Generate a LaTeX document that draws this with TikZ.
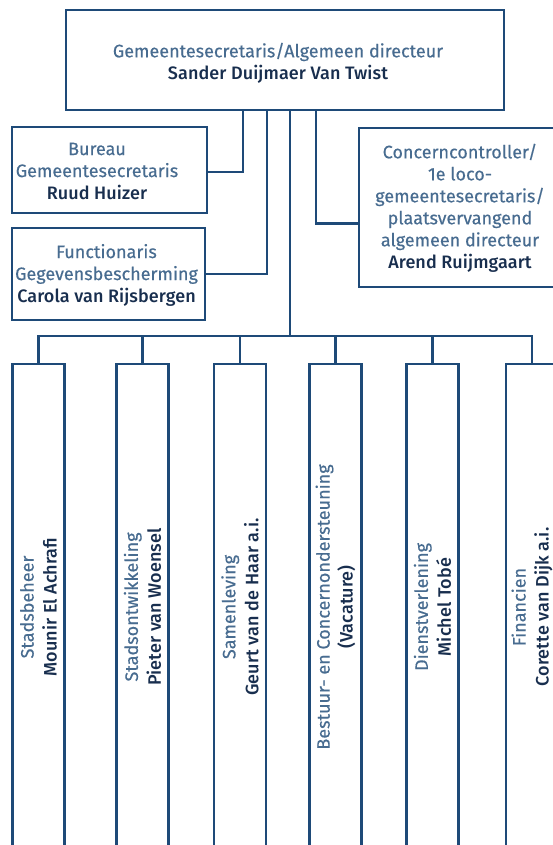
\documentclass[tikz,border=0pt]{standalone}
\usepackage{fontspec}
\setmainfont{Fira Sans}
\newfontfamily\rolefont{Fira Sans}[FakeBold=0.4]
\newfontfamily\namefont{Fira Sans Medium}[LetterSpace=0.5]
\usepackage{xcolor}
\usepackage{tikz}
\definecolor{linecol}{RGB}{30,74,120}
\definecolor{rolecol}{RGB}{72,108,144}
\definecolor{namecol}{RGB}{24,46,78}
\newcommand{\role}[1]{{\rolefont\color{rolecol}#1}}
\newcommand{\naam}[1]{{\namefont\color{namecol}#1}}

\begin{document}
\begin{tikzpicture}[x=1pt,y=-1pt]
  \tikzset{
    orgbox/.style={draw=linecol,line width=2.6pt},
    orgtxt/.style={inner sep=0pt,align=center,font=\fontsize{18}{22}\selectfont},
    colbox/.style={draw=linecol,line width=2.6pt,rotate=90,minimum width=486pt,minimum height=52pt,inner sep=0pt,align=center,font=\fontsize{18}{23}\selectfont},
    conn/.style={draw=linecol,line width=2.6pt,line cap=rect}
  }
  \useasboundingbox (0,0) rectangle (552,845);
  % top
  \node[orgbox,minimum width=438pt,minimum height=100pt] (dir) at (285,60) {};
  \node[orgtxt] (dirtxt) at (278,63) {\role{Gemeentesecretaris/Algemeen directeur}\\\naam{Sander Duijmaer Van Twist}};
  % staff
  \node[orgbox,minimum width=195pt,minimum height=86pt] (bureau) at (109.5,170) {};
  \node[orgtxt] (bureautxt) at (97,171) {\role{Bureau}\\\role{Gemeentesecretaris}\\\naam{Ruud Huizer}};
  \node[orgbox,minimum width=193pt,minimum height=92pt] (fg) at (108.5,274) {};
  \node[orgtxt] (fgtxt) at (106.5,275) {\role{Functionaris}\\\role{Gegevensbescherming}\\\naam{Carola van Rijsbergen}};
  \node[orgbox,minimum width=202pt,minimum height=159pt] (cc) at (460,207.5) {};
  \node[orgtxt] (cctxt) at (460,208) {\role{Concerncontroller/}\\\role{1e loco-}\\\role{gemeentesecretaris/}\\\role{plaatsvervangend}\\\role{algemeen directeur}\\\naam{Arend Ruijmgaart}};
  % columns
  \node[colbox] (stadsbeheer) at (38.5,607) {\role{Stadsbeheer}\\\naam{Mounir El Achrafi}};
  \node[colbox] (stadsontw) at (142.5,607) {\role{Stadsontwikkeling}\\\naam{Pieter van Woensel}};
  \node[colbox] (samenleving) at (240,607) {\role{Samenleving}\\\naam{Geurt van de Haar a.i.}};
  \node[colbox] (bestuur) at (335.5,607) {\role{Bestuur- en Concernondersteuning}\\\naam{(Vacature)}};
  \node[colbox] (dienst) at (432.5,607) {\role{Dienstverlening}\\\naam{Michel Tobé}};
  \node[colbox] (financien) at (532,607) {\role{Financien}\\\naam{Corette van Dijk a.i.}};
  \coordinate (bus) at (290,336);
  % lines
  \draw[conn] ([xshift=5pt]dir.south) -- (bus);
  \draw[conn] ([xshift=-42pt]dir.south) |- ([yshift=-2pt]bureau.east);
  \draw[conn] ([xshift=-18pt]dir.south) |- (fg.east);
  \draw[conn] ([xshift=31pt]dir.south) |- ([yshift=-16pt]cc.west);
  \draw[conn] (bus -| stadsbeheer.east) -- (bus -| financien.east);
  \draw[conn] (bus -| stadsbeheer.east) -- (stadsbeheer.east);
  \draw[conn] (bus -| stadsontw.east) -- (stadsontw.east);
  \draw[conn] (bus -| samenleving.east) -- (samenleving.east);
  \draw[conn] (bus -| bestuur.east) -- (bestuur.east);
  \draw[conn] (bus -| dienst.east) -- (dienst.east);
  \draw[conn] (bus -| financien.east) -- (financien.east);
\end{tikzpicture}
\end{document}
